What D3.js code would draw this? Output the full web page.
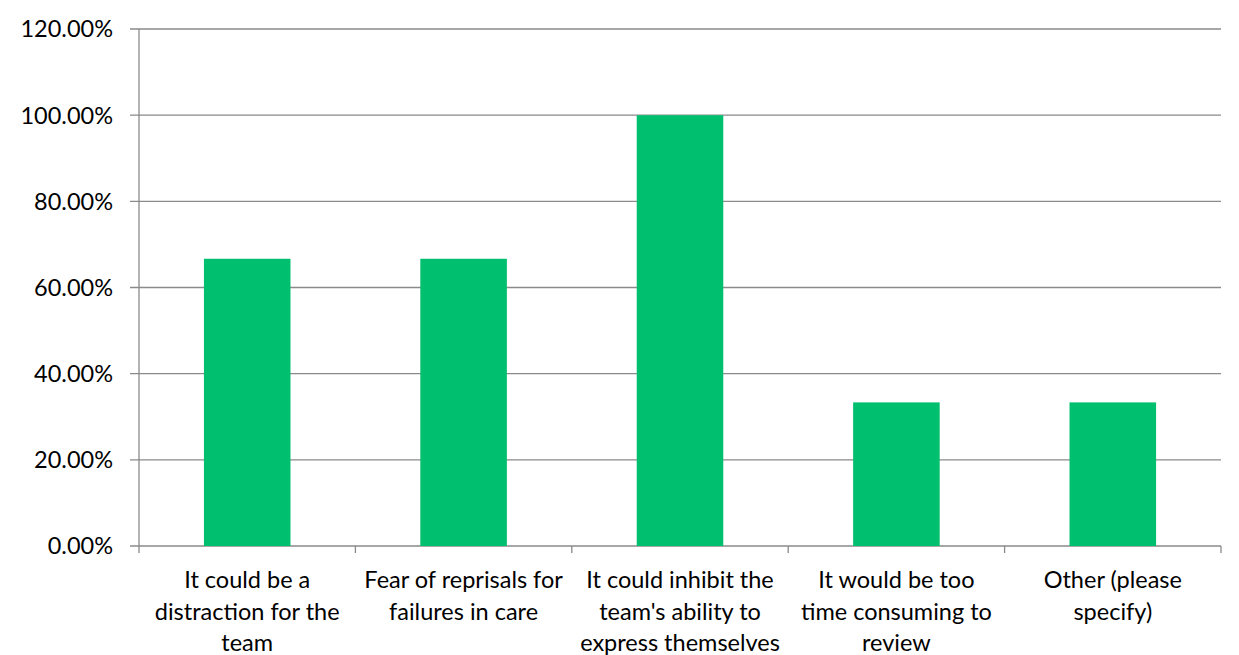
<!DOCTYPE html>
<html>
<head>
<meta charset="utf-8">
<script src="https://cdn.jsdelivr.net/npm/d3@7"></script>
<style>
  html, body { margin: 0; padding: 0; background: #fff; }
  svg { display: block; }
  text { font-family: Lato, "Open Sans", sans-serif; fill: #000; }
</style>
</head>
<body>
<svg id="chart" width="1239" height="655"></svg>
<script>
// Response categories, each split into the lines shown under the axis
const categories = [
  "It could be a distraction for the team",
  "Fear of reprisals for failures in care",
  "It could inhibit the team's ability to express themselves",
  "It would be too time consuming to review",
  "Other (please specify)"
];
const labelLines = [
  ["It could be a", "distraction for the", "team"],
  ["Fear of reprisals for", "failures in care"],
  ["It could inhibit the", "team's ability to", "express themselves"],
  ["It would be too", "time consuming to", "review"],
  ["Other (please", "specify)"]
];
// Share of respondents (%)
const values = [66.67, 66.67, 100, 33.33, 33.33];
const yTicks = [0, 20, 40, 60, 80, 100, 120];

const svg = d3.select("#chart");
const margin = { left: 139, right: 18, top: 29, bottom: 109 };
const W = 1239, H = 655;
const fontSize = "23.5px";

const x = d3.scaleBand()
  .domain(categories)
  .range([margin.left, W - margin.right])
  .paddingInner(0.6)
  .paddingOuter(0.3);

const xOuter = d3.scaleBand()
  .domain(categories)
  .range([margin.left, W - margin.right]);

const y = d3.scaleLinear()
  .domain([0, 120])
  .range([H - margin.bottom, margin.top]);

const gridColor = "#8a8a8a";

// horizontal gridlines
svg.append("g")
  .selectAll("line")
  .data(yTicks)
  .join("line")
  .attr("x1", margin.left - 9)
  .attr("x2", W - margin.right)
  .attr("y1", d => y(d))
  .attr("y2", d => y(d))
  .attr("stroke", gridColor)
  .attr("stroke-width", 1.3);

// y axis line
svg.append("line")
  .attr("x1", margin.left).attr("x2", margin.left)
  .attr("y1", y(120)).attr("y2", y(0) + 7)
  .attr("stroke", gridColor).attr("stroke-width", 1.3);

// y tick labels
svg.append("g")
  .selectAll("text")
  .data(yTicks)
  .join("text")
  .attr("x", 113)
  .attr("y", d => y(d))
  .attr("dy", "0.36em")
  .attr("text-anchor", "end")
  .style("font-size", fontSize)
  .text(d => d3.format(".2f")(d) + "%");

// x tick marks at category boundaries
const boundaries = categories.map(c => xOuter(c)).concat([W - margin.right]);
svg.append("g")
  .selectAll("line")
  .data(boundaries.slice(1))
  .join("line")
  .attr("x1", d => d).attr("x2", d => d)
  .attr("y1", y(0)).attr("y2", y(0) + 7)
  .attr("stroke", gridColor).attr("stroke-width", 1.3);

// bars
svg.append("g")
  .selectAll("rect")
  .data(values)
  .join("rect")
  .attr("x", (d, i) => x(categories[i]))
  .attr("width", x.bandwidth())
  .attr("y", d => y(d))
  .attr("height", d => y(0) - y(d))
  .attr("fill", "#00BF6F");

// category labels
const lab = svg.append("g")
  .selectAll("text")
  .data(labelLines)
  .join("text")
  .attr("text-anchor", "middle")
  .style("font-size", fontSize)
  .attr("transform", (d, i) => `translate(${xOuter(categories[i]) + xOuter.bandwidth() / 2},0)`);

lab.selectAll("tspan")
  .data(d => d)
  .join("tspan")
  .attr("x", 0)
  .attr("y", (d, j) => 588 + j * 31.5)
  .text(d => d);
</script>
</body>
</html>
